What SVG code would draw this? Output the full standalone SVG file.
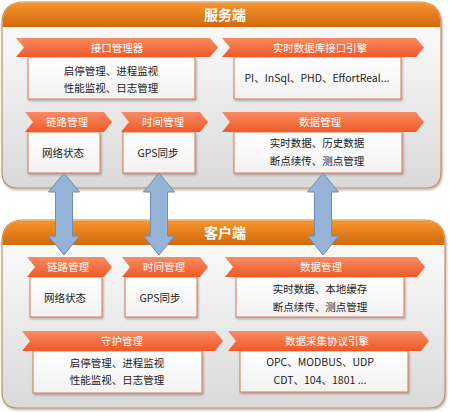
<svg xmlns="http://www.w3.org/2000/svg" width="450" height="412" viewBox="0 0 450 412">
<defs>
<linearGradient id="gPanel" x1="0" y1="0" x2="0" y2="1">
<stop offset="0" stop-color="#ffffff"/>
<stop offset="1" stop-color="#d9d9d9"/>
</linearGradient>
<linearGradient id="gHead" x1="0" y1="0" x2="0" y2="1">
<stop offset="0" stop-color="#f6952e"/>
<stop offset="1" stop-color="#d2680c"/>
</linearGradient>
<linearGradient id="gRib" x1="0" y1="0" x2="0" y2="1">
<stop offset="0" stop-color="#fa8b62"/>
<stop offset="1" stop-color="#ee5a27"/>
</linearGradient>
<linearGradient id="gBox" x1="0" y1="0" x2="0" y2="1">
<stop offset="0" stop-color="#ffffff"/>
<stop offset="1" stop-color="#f2f2f2"/>
</linearGradient>
<filter id="sh" x="-10%" y="-10%" width="120%" height="130%">
<feDropShadow dx="1" dy="1.5" stdDeviation="1.2" flood-color="#000" flood-opacity="0.3"/>
</filter>
</defs>
<style>
.panel{fill:url(#gPanel);stroke:#c58d5a;stroke-width:1.2}
.head{fill:url(#gHead)}
.title{font-family:"Noto Sans CJK SC","Liberation Sans",sans-serif;font-size:14px;font-weight:bold;fill:#fff;text-anchor:middle}
.rib{fill:url(#gRib)}
.rt{font-family:"Noto Sans CJK SC","Liberation Sans",sans-serif;font-size:10.5px;fill:#fff;text-anchor:middle}
.box{fill:url(#gBox);stroke:#e0744c;stroke-width:1}
.bt{font-family:"Noto Sans CJK SC","Liberation Sans",sans-serif;font-size:10.5px;fill:#222;text-anchor:middle}
.arr{fill:#95b3d7;stroke:#6f8db5;stroke-width:1}
</style>

<g id="server">
<path class="panel" filter="url(#sh)" d="M2,24 Q2,2 24,2 H419 Q441,2 441,24 V172 Q441,188 425,188 H18 Q2,188 2,172 Z"/>
<path class="head" d="M2.6,27 V24 Q2.6,2.6 24,2.6 H419 Q440.4,2.6 440.4,24 V27 Z"/>
<text class="title" x="225" y="20">服务端</text>
</g>

<g id="client">
<path class="panel" filter="url(#sh)" d="M2,242 Q2,220 24,220 H423 Q445,220 445,242 V392 Q445,408 429,408 H18 Q2,408 2,392 Z"/>
<path class="head" d="M2.6,245 V242 Q2.6,220.6 24,220.6 H423 Q444.4,220.6 444.4,242 V245 Z"/>
<text class="title" x="225" y="238">客户端</text>
</g>

<g id="s-iface">
<rect class="box" filter="url(#sh)" x="28" y="57" width="167" height="42"/>
<path class="rib" d="M16,38 H210 L218,47.5 L210,57 H16 L24,47.5 Z"/>
<text class="rt" x="117" y="51.5">接口管理器</text>
<text class="bt" x="111" y="75">启停管理、进程监视</text>
<text class="bt" x="111" y="92">性能监视、日志管理</text>
</g>

<g id="s-rtdb">
<rect class="box" filter="url(#sh)" x="234" y="57" width="167" height="42"/>
<path class="rib" d="M222,38 H416 L424,47.5 L416,57 H222 L230,47.5 Z"/>
<text class="rt" x="320" y="51.5">实时数据库接口引擎</text>
<text class="bt" x="317" y="82">PI、InSql、PHD、EffortReal...</text>
</g>

<g id="s-link">
<rect class="box" filter="url(#sh)" x="28" y="132" width="72" height="41"/>
<path class="rib" d="M25,112 H104 L112,122 L104,132 H25 L33,122 Z"/>
<text class="rt" x="67" y="126">链路管理</text>
<text class="bt" x="63" y="157">网络状态</text>
</g>

<g id="s-time">
<rect class="box" filter="url(#sh)" x="123" y="132" width="72" height="41"/>
<path class="rib" d="M121,112 H200 L208,122 L200,132 H121 L129,122 Z"/>
<text class="rt" x="163" y="126">时间管理</text>
<text class="bt" x="158" y="157">GPS同步</text>
</g>

<g id="s-data">
<rect class="box" filter="url(#sh)" x="234" y="132" width="168" height="41"/>
<path class="rib" d="M222,112 H416 L424,122 L416,132 H222 L230,122 Z"/>
<text class="rt" x="320" y="126">数据管理</text>
<text class="bt" x="317" y="147">实时数据、历史数据</text>
<text class="bt" x="317" y="165">断点续传、测点管理</text>
</g>

<g id="c-link">
<rect class="box" filter="url(#sh)" x="30" y="277" width="72" height="40"/>
<path class="rib" d="M27,257 H104 L112,267 L104,277 H27 L35,267 Z"/>
<text class="rt" x="68" y="271">链路管理</text>
<text class="bt" x="65" y="302">网络状态</text>
</g>

<g id="c-time">
<rect class="box" filter="url(#sh)" x="125" y="277" width="72" height="40"/>
<path class="rib" d="M122,257 H200 L208,267 L200,277 H122 L130,267 Z"/>
<text class="rt" x="164" y="271">时间管理</text>
<text class="bt" x="160" y="302">GPS同步</text>
</g>

<g id="c-data">
<rect class="box" filter="url(#sh)" x="236" y="277" width="168" height="40"/>
<path class="rib" d="M225,257 H417 L425,267 L417,277 H225 L233,267 Z"/>
<text class="rt" x="321" y="271">数据管理</text>
<text class="bt" x="320" y="293">实时数据、本地缓存</text>
<text class="bt" x="320" y="311">断点续传、测点管理</text>
</g>

<g id="c-guard">
<rect class="box" filter="url(#sh)" x="33" y="351" width="169" height="42"/>
<path class="rib" d="M22,331 H215 L223,341 L215,351 H22 L30,341 Z"/>
<text class="rt" x="122" y="345">守护管理</text>
<text class="bt" x="117" y="367">启停管理、进程监视</text>
<text class="bt" x="117" y="384">性能监视、日志管理</text>
</g>

<g id="c-proto">
<rect class="box" filter="url(#sh)" x="240" y="351" width="168" height="41"/>
<path class="rib" d="M228,331 H421 L429,341 L421,351 H228 L236,341 Z"/>
<text class="rt" x="327" y="345">数据采集协议引擎</text>
<text class="bt" x="320" y="366">OPC、MODBUS、UDP</text>
<text class="bt" x="320" y="384">CDT、104、1801 ...</text>
</g>

<g id="connectors">
<polygon class="arr" points="64,173 79.5,192 72.5,192 72.5,236 79.5,236 64,255 48.5,236 55.5,236 55.5,192 48.5,192"/>
<polygon class="arr" points="159,173 174.5,192 167.5,192 167.5,236 174.5,236 159,255 143.5,236 150.5,236 150.5,192 143.5,192"/>
<polygon class="arr" points="323,173 338.5,192 331.5,192 331.5,236 338.5,236 323,255 307.5,236 314.5,236 314.5,192 307.5,192"/>
</g>
</svg>
